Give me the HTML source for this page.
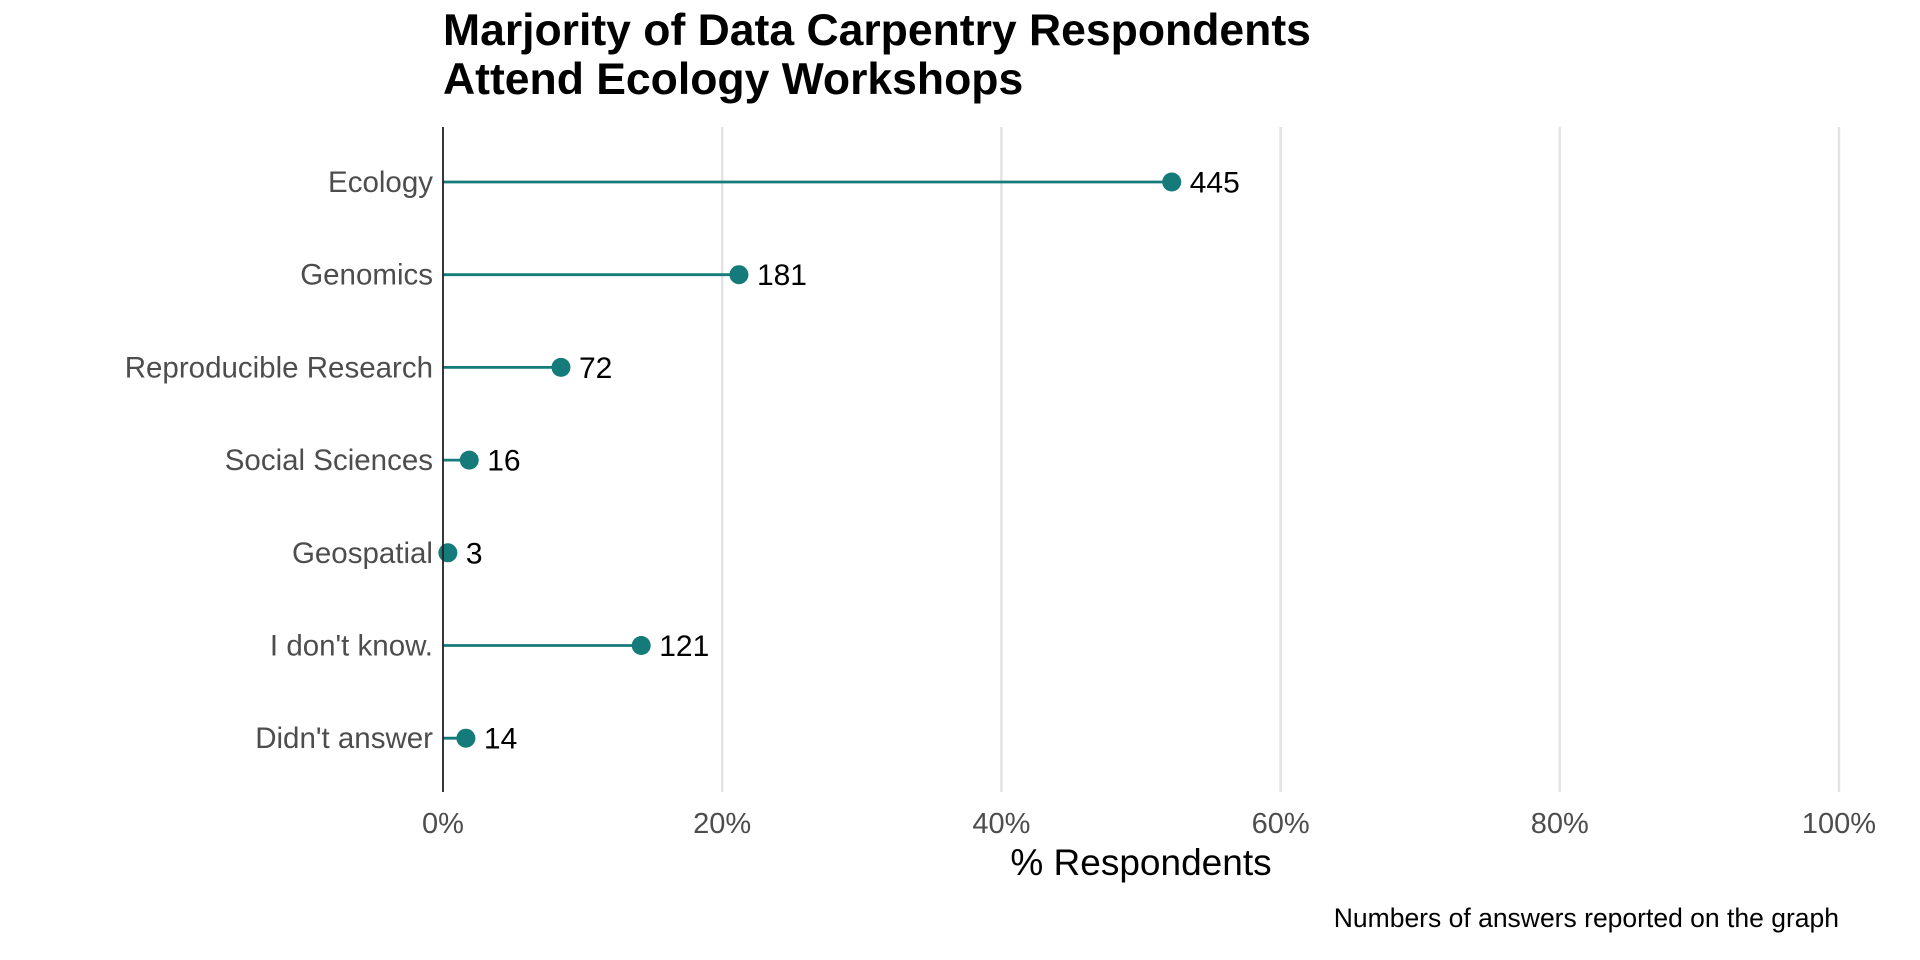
<!DOCTYPE html>
<html><head><meta charset="utf-8"><style>
html,body{margin:0;padding:0;background:#fff;}
svg{display:block;font-family:"Liberation Sans",Arial,sans-serif;}
</style></head><body>
<svg id="chart" width="1920" height="960" viewBox="0 0 1920 960">
<g>
<text x="443" y="45" font-size="44.5" font-weight="bold" fill="#000">Marjority of Data Carpentry Respondents</text>
<text x="443" y="94" font-size="44.5" font-weight="bold" fill="#000">Attend Ecology Workshops</text>
</g>
<g id="grid"></g>
<g id="marks"></g>
<line x1="443" y1="127" x2="443" y2="792" stroke="#222" stroke-width="1.8"/>
<g id="ylabels"></g>
<g id="xlabels"></g>
<text x="1141" y="875" font-size="37" text-anchor="middle" fill="#000">% Respondents</text>
<text x="1839" y="927" font-size="26.5" text-anchor="end" fill="#000">Numbers of answers reported on the graph</text>
</svg>
<script>
const categories = ["Ecology","Genomics","Reproducible Research","Social Sciences","Geospatial","I don't know.","Didn't answer"];
const counts = [445,181,72,16,3,121,14];
const percents = [52.2,21.2,8.45,1.88,0.35,14.2,1.64];
const xTicks = [0,20,40,60,80,100];
const xTickLabels = ["0%","20%","40%","60%","80%","100%"];

const NS="http://www.w3.org/2000/svg";
const X0=443,X1=1839,Y0=182,STEP=92.7;
const xs=v=>X0+(X1-X0)*v/100;
const ys=i=>Y0+i*STEP;
function mk(tag,attrs,parent){const e=document.createElementNS(NS,tag);for(const k in attrs)e.setAttribute(k,attrs[k]);parent.appendChild(e);return e;}
const grid=document.getElementById('grid'),marks=document.getElementById('marks'),yl=document.getElementById('ylabels'),xl=document.getElementById('xlabels');
xTicks.forEach((t,i)=>{
  if(t>0){const g=mk('line',{x1:xs(t),x2:xs(t),y1:127,y2:792,stroke:'#e3e3e3','stroke-width':2.5},grid);
  
  }
  const tl=mk('text',{x:xs(t),y:833,'font-size':29,'text-anchor':'middle',fill:'#4d4d4d'},xl);
  tl.textContent=xTickLabels[i];
  
  
});
categories.forEach((c,i)=>{
  const y=ys(i);
  const lab=mk('text',{x:433,y:y+10,'font-size':29.5,'text-anchor':'end',fill:'#4d4d4d'},yl);
  lab.textContent=c;
  
  
  const ln=mk('line',{x1:X0,x2:xs(percents[i]),y1:y,y2:y,stroke:'#147a7a','stroke-width':2.8},marks);
  
  
  const d=mk('circle',{cx:xs(percents[i]),cy:y,r:9.5,fill:'#147a7a'},marks);
  
  
  const v=mk('text',{x:xs(percents[i])+18,y:y+10.5,'font-size':30,fill:'#000'},marks);
  v.textContent=counts[i];
  
  
});
</script>
</body></html>
